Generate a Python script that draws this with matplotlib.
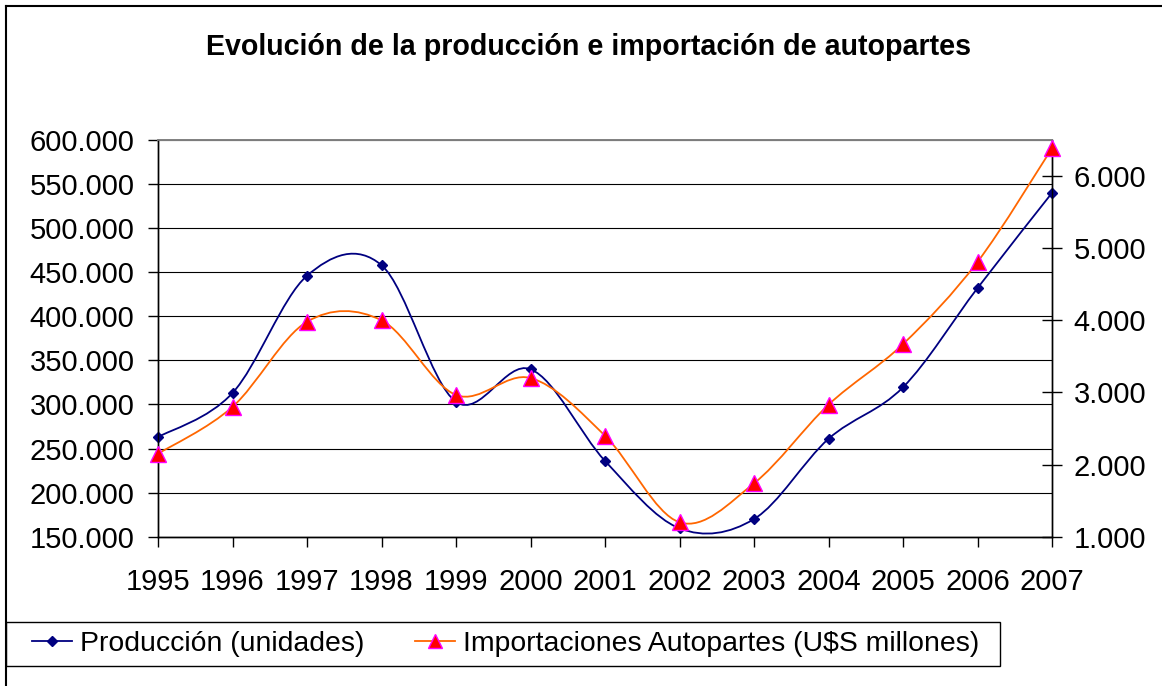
import matplotlib
matplotlib.use("Agg")
import matplotlib.pyplot as plt
import numpy as np
from matplotlib.path import Path
from matplotlib.patches import PathPatch, Rectangle
from matplotlib.lines import Line2D
from matplotlib.ticker import FuncFormatter, MultipleLocator

plt.rcParams['font.family'] = ['Liberation Sans', 'DejaVu Sans']

years = [1995, 1996, 1997, 1998, 1999, 2000, 2001, 2002, 2003, 2004, 2005, 2006, 2007]
produccion = [263000, 313000, 446000, 458000, 303000, 340000, 236000, 159500, 170000, 261000, 319500, 432000, 540000]
importaciones = [2150, 2800, 3980, 4000, 2965, 3200, 2400, 1200, 1740, 2830, 3670, 4810, 6385]

title = "Evolución de la producción e importación de autopartes"
label_prod = "Producción (unidades)"
label_imp = "Importaciones Autopartes (U$S millones)"


def smooth_path(xs, ys):
    # curva suavizada tipo Excel (Bezier Catmull-Rom)
    pts = np.column_stack([xs, ys]).astype(float)
    n = len(pts)
    verts = [pts[0]]
    codes = [Path.MOVETO]
    for i in range(n - 1):
        p0 = pts[i - 1] if i > 0 else pts[i]
        p1 = pts[i]
        p2 = pts[i + 1]
        p3 = pts[i + 2] if i + 2 < n else pts[i + 1]
        c1 = p1 + (p2 - p0) / 6.0
        c2 = p2 - (p3 - p1) / 6.0
        verts += [c1, c2, p2]
        codes += [Path.CURVE4] * 3
    return Path(verts, codes)


def miles(v, pos):
    return f"{v:,.0f}".replace(",", ".")


W, H = 1162, 686
fig = plt.figure(figsize=(W / 100, H / 100), dpi=100)
left, right, top, bottom = 158, 1052, 140, 536.7
ax = fig.add_axes([left / W, 1 - bottom / H, (right - left) / W, (bottom - top) / H])
ax2 = ax.twinx()

ax.set_xlim(1995, 2007)
ax.set_ylim(150000, 600000)
ax2.set_ylim(1000, 6500)

ax.yaxis.set_major_locator(MultipleLocator(50000))
ax.yaxis.set_major_formatter(FuncFormatter(miles))
ax2.yaxis.set_major_locator(MultipleLocator(1000))
ax2.yaxis.set_major_formatter(FuncFormatter(miles))
ax.set_xticks(years)
ax.set_xticklabels([str(y) for y in years])

ax.grid(axis='y', color='black', linewidth=0.8)
ax.set_axisbelow(True)
for a in (ax, ax2):
    a.spines['top'].set_color('#808080')
    a.spines['top'].set_linewidth(1.2)
    a.spines['left'].set_linewidth(1.0)
    a.spines['right'].set_linewidth(1.0)
    a.spines['bottom'].set_linewidth(1.0)

ax.tick_params(axis='y', direction='out', length=7, width=1, labelsize=21, pad=10)
ax.tick_params(axis='x', direction='out', length=7.5, width=1, labelsize=21, pad=15)
ax2.tick_params(axis='y', direction='inout', length=14, width=1, labelsize=21, pad=8.5)

navy = '#000080'
orange = '#FF6600'

ax.add_patch(PathPatch(smooth_path(years, produccion), facecolor='none',
                       edgecolor=navy, linewidth=1.3, zorder=3))
ax.plot(years, produccion, linestyle='none', marker='D', markersize=5.5,
        color=navy, zorder=4, clip_on=False)

ax2.add_patch(PathPatch(smooth_path(years, importaciones), facecolor='none',
                        edgecolor=orange, linewidth=1.3, zorder=3))
ax2.plot(years, importaciones, linestyle='none', marker='^', markersize=11,
         markerfacecolor='#FF0000', markeredgecolor='#FF00FF', markeredgewidth=1,
         zorder=4, clip_on=False)

fig.text(588 / W, 1 - 47 / H, title, ha='center', va='center',
         fontsize=20.6, fontweight='bold')

# marco del grafico
fig.add_artist(Line2D([6 / W, 6 / W], [0, 1 - 6 / H], color='black', linewidth=1.5,
                      transform=fig.transFigure))
fig.add_artist(Line2D([6 / W, 1], [1 - 6 / H, 1 - 6 / H], color='black', linewidth=1.5,
                      transform=fig.transFigure))

# caja de la leyenda
fig.add_artist(Rectangle((6 / W, 1 - 666 / H), (1000 - 6) / W, 44 / H,
                         transform=fig.transFigure, facecolor='white',
                         edgecolor='black', linewidth=1.0))

handles = [
    Line2D([], [], color=navy, linewidth=1.3, marker='D', markersize=5),
    Line2D([], [], color=orange, linewidth=1.3, marker='^', markersize=10,
           markerfacecolor='#FF0000', markeredgecolor='#FF00FF'),
]
leg = fig.legend(handles, [label_prod, label_imp], ncol=2, loc='center left',
                 bbox_to_anchor=(32 / W, 1 - 644 / H), fontsize=20.4, frameon=False,
                 handlelength=1.4, handletextpad=0.28, columnspacing=1.8,
                 borderpad=0, borderaxespad=0)

fig.savefig("out.png", dpi=100)
